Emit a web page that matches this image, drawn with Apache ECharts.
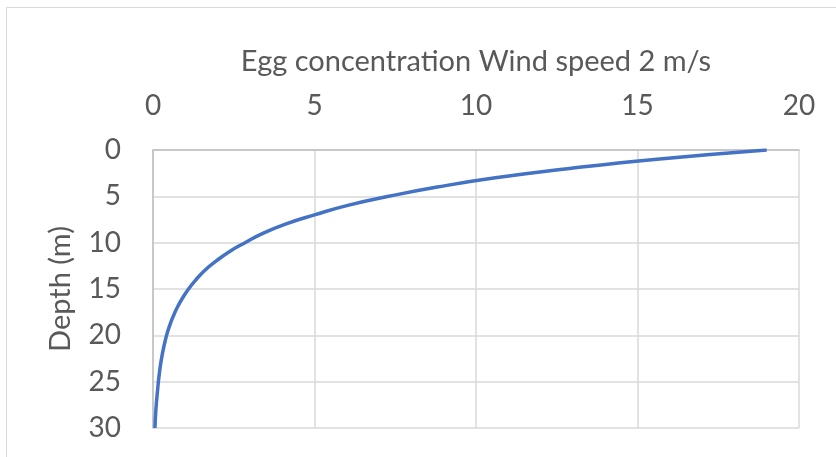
<!DOCTYPE html>
<html><head><meta charset="utf-8">
<script src="https://cdn.jsdelivr.net/npm/echarts@6/dist/echarts.min.js"></script>
<style>html,body{margin:0;padding:0;background:#fff}#c{width:836px;height:457px}</style>
</head><body><div id="c"></div>
<script>
const depths = [0,1,2,3,4,5,6,7,8,9,10,11,12,13,14,15,16,17,18,19,20,22,24,26,28,30];
const eggConcentration = [19.0,15.6,12.9,10.6,8.8,7.3,6.0,5.0,4.1,3.4,2.85,2.35,1.95,1.6,1.33,1.1,0.91,0.75,0.62,0.51,0.42,0.29,0.2,0.14,0.09,0.06];
const xTitle = 'Egg concentration Wind speed 2 m/s';
const yTitle = 'Depth (m)';

const chart = echarts.init(document.getElementById('c'), null, {renderer:'canvas'});
const font = 'Lato, "Open Sans", sans-serif';
chart.setOption({
  animation:false,
  backgroundColor:'#fff',
  graphic:[{type:'rect',shape:{x:6.5,y:7.5,width:1000,height:1000},style:{fill:'none',stroke:'#D9D9D9',lineWidth:1},silent:true}],
  grid:{left:153,right:37,top:150,bottom:29},
  xAxis:{type:'value',position:'top',min:0,max:20,interval:5,
    name:xTitle,nameLocation:'middle',nameGap:74,
    nameTextStyle:{fontFamily:font,fontSize:29,color:'#595959'},
    axisLine:{show:true,lineStyle:{color:'#BFBFBF',width:1.5}},
    axisTick:{show:false},
    axisLabel:{fontFamily:font,fontSize:28,color:'#595959',margin:30},
    splitLine:{show:true,lineStyle:{color:'#D9D9D9',width:1.5}}},
  yAxis:{type:'value',inverse:true,min:0,max:30,interval:5,
    name:yTitle,nameLocation:'middle',nameGap:78,nameRotate:90,
    nameTextStyle:{fontFamily:font,fontSize:29,color:'#595959'},
    axisLine:{show:true,lineStyle:{color:'#BFBFBF',width:1.5}},
    axisTick:{show:false},
    axisLabel:{fontFamily:font,fontSize:28,color:'#595959',margin:32},
    splitLine:{show:true,lineStyle:{color:'#D9D9D9',width:1.5}}},
  series:[{type:'line',smooth:true,showSymbol:false,
    data:depths.map((d,i)=>[eggConcentration[i],d]),
    lineStyle:{color:'#4472C4',width:3.5}}]
});
</script></body></html>
